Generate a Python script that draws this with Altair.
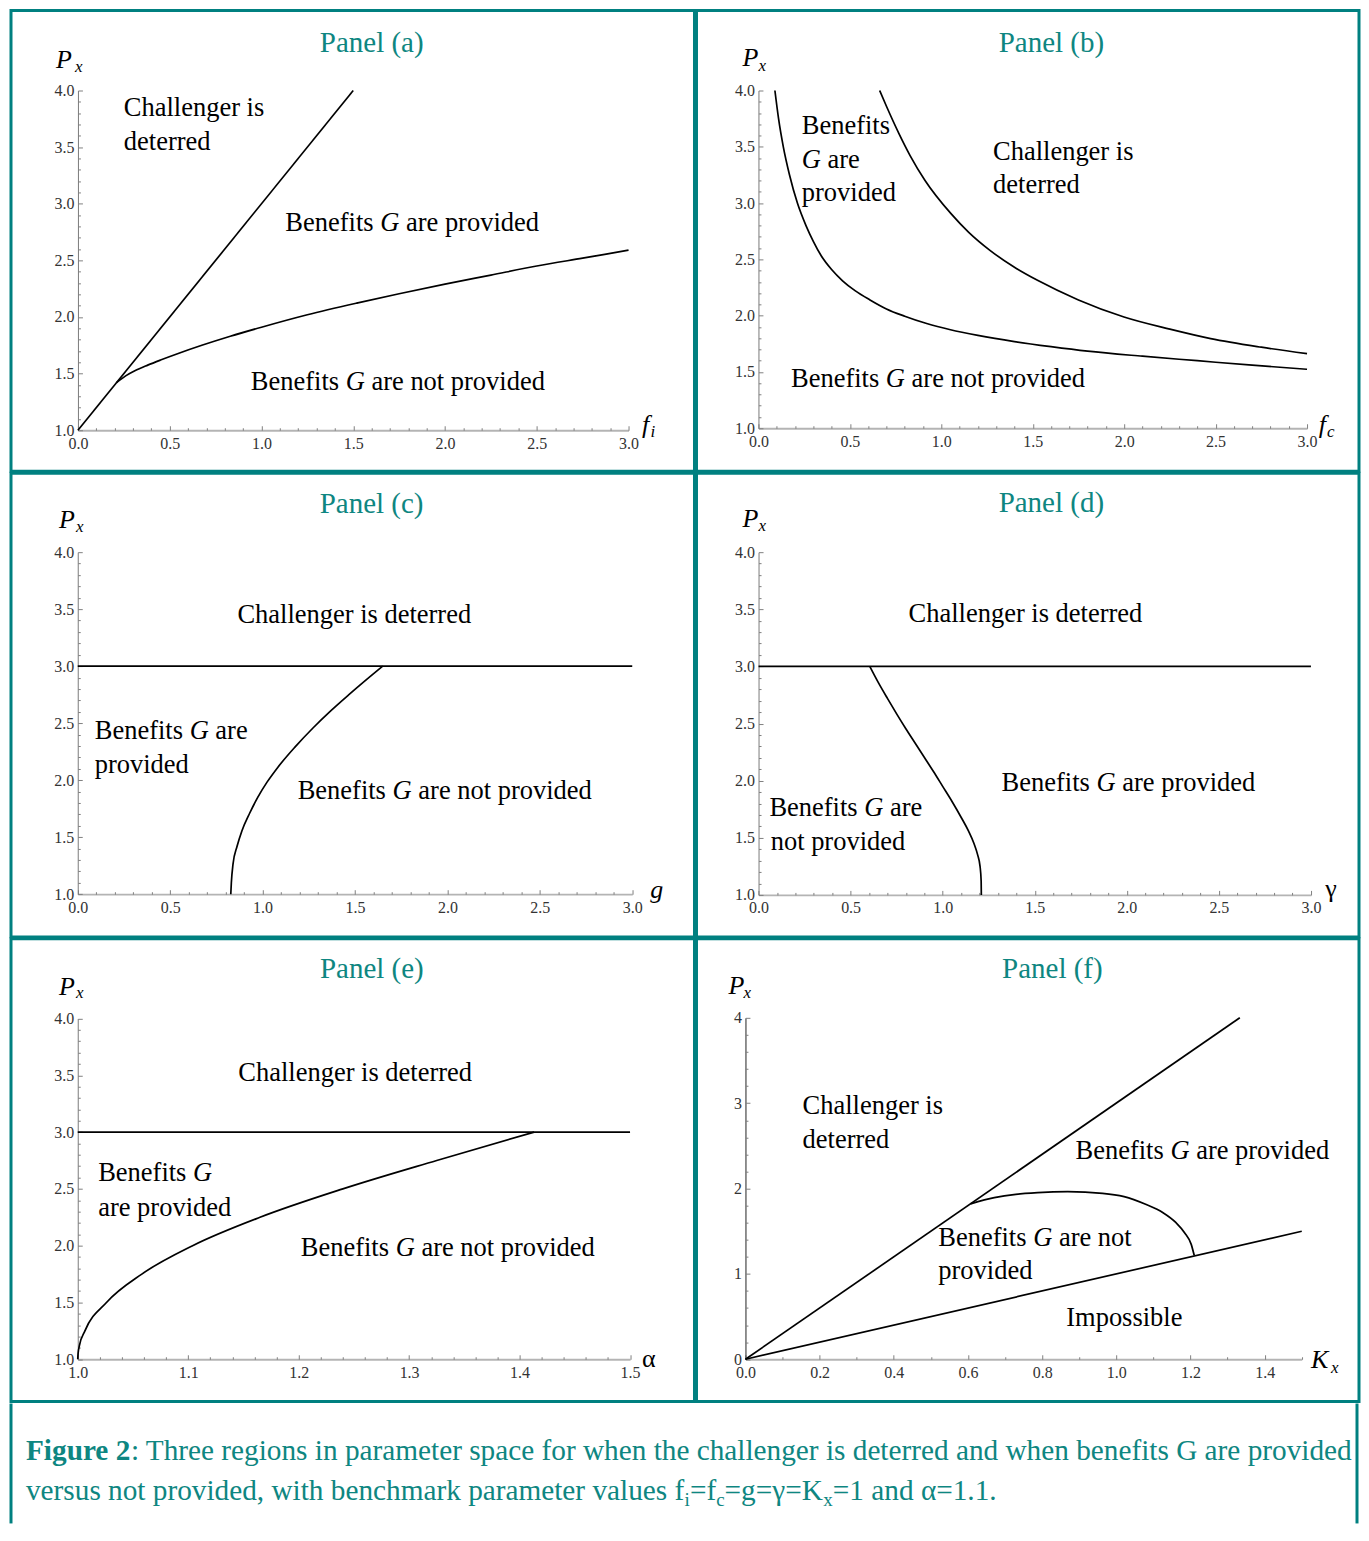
import altair as alt
import pandas as pd

FONT = "Liberation Serif"
BORDER = "#008080"
TEAL = "#0e8681"

# ---------------- data ----------------
# Panel (a): horizontal axis f_i
a_deter_x = [0.0, 1.5]
a_deter_y = [1.0, 4.0]
a_benefit_x = [0.21, 0.26, 0.31, 0.38, 0.45, 0.55, 0.675, 0.83, 1.0, 1.25, 1.525, 1.75, 2.0, 2.25, 2.5, 2.75, 3.0]
a_benefit_y = [1.42, 1.48, 1.525, 1.575, 1.62, 1.68, 1.75, 1.83, 1.91, 2.02, 2.125, 2.205, 2.29, 2.37, 2.45, 2.52, 2.59]

# Panel (b): horizontal axis f_c
b_benefit_x = [0.09, 0.11, 0.136, 0.17, 0.213, 0.26, 0.30, 0.344, 0.40, 0.46, 0.53, 0.61, 0.70, 0.80,
               0.92, 1.05, 1.20, 1.40, 1.60, 1.80, 2.10, 2.40, 2.70, 3.0]
b_benefit_y = [4.0, 3.75, 3.5, 3.25, 3.0, 2.80, 2.66, 2.53, 2.41, 2.31, 2.22, 2.14, 2.06, 1.995,
               1.93, 1.875, 1.825, 1.77, 1.725, 1.685, 1.64, 1.60, 1.56, 1.524]
b_deter_x = [0.663, 0.70, 0.769, 0.83, 0.911, 1.053, 1.15, 1.266, 1.40, 1.526, 1.75, 1.999, 2.25, 2.473, 2.75, 3.0]
b_deter_y = [4.0, 3.86, 3.615, 3.42, 3.201, 2.906, 2.74, 2.58, 2.43, 2.314, 2.14, 1.988, 1.88, 1.796, 1.72, 1.663]

# Panel (c): horizontal axis g
c_deter_x = [0.0, 3.0]
c_deter_y = [3.0, 3.0]
c_benefit_x = [0.828, 0.831, 0.840, 0.862, 0.888, 0.93, 0.973, 1.025, 1.081, 1.175, 1.274, 1.37, 1.467, 1.557, 1.650]
c_benefit_y = [1.0, 1.1, 1.263, 1.42, 1.555, 1.71, 1.847, 1.985, 2.110, 2.29, 2.46, 2.61, 2.75, 2.875, 3.0]

# Panel (d): horizontal axis gamma
d_deter_x = [0.0, 3.0]
d_deter_y = [3.0, 3.0]
d_benefit_x = [0.604, 0.65, 0.70, 0.75, 0.80, 0.85, 0.90, 0.95, 1.00, 1.05, 1.10, 1.14, 1.17, 1.19,
               1.203, 1.209, 1.210]
d_benefit_y = [3.0, 2.86, 2.72, 2.585, 2.455, 2.33, 2.205, 2.08, 1.95, 1.82, 1.68, 1.56, 1.45, 1.35,
               1.25, 1.12, 1.0]

# Panel (e): horizontal axis alpha
e_deter_x = [1.0, 1.5]
e_deter_y = [3.0, 3.0]
e_benefit_x = [1.0, 1.0003, 1.0015, 1.0065, 1.026, 1.058, 1.104, 1.165, 1.240, 1.325, 1.4132]
e_benefit_y = [1.0, 1.05, 1.12, 1.25, 1.5, 1.75, 2.0, 2.25, 2.5, 2.75, 3.0]

# Panel (f): horizontal axis K_x
f_deter_x = [0.0, 1.333]
f_deter_y = [0.0, 4.0]
f_possible_x = [0.0, 1.5]
f_possible_y = [0.0, 1.5]
f_benefit_x = [0.607, 0.671, 0.729, 0.788, 0.869, 0.963, 1.021, 1.079, 1.126, 1.161, 1.184, 1.202, 1.210]
f_benefit_y = [1.821, 1.893, 1.932, 1.952, 1.963, 1.944, 1.905, 1.815, 1.717, 1.600, 1.483, 1.346, 1.218]

# tick labels
xlabels_3 = [0, 0.5, 1, 1.5, 2, 2.5, 3]
ylabels_4 = [1, 1.5, 2, 2.5, 3, 3.5, 4]
xlabels_e = [1.0, 1.1, 1.2, 1.3, 1.4, 1.5]
xlabels_f = [0, 0.2, 0.4, 0.6, 0.8, 1.0, 1.2, 1.4]
ylabels_f = [0, 1, 2, 3, 4]

# texts
titles = {k: f"Panel ({k})" for k in "abcdef"}
caption_line1_bold = "Figure 2"
caption_line1 = ": Three regions in parameter space for when the challenger is deterred and when benefits G are provided"
caption_line2 = [("versus not provided, with benchmark parameter values f", False), ("i", True),
                 ("=f", False), ("c", True), ("=g=γ=K", False), ("x", True), ("=1 and α=1.1.", False)]

# ---------------- layout / style (not data) ----------------
LW, RW = 684, 663
SPECS = {
    "a": dict(w=LW, h=461, xd=[0, 3], xr=[67, 618], yd=[1, 4], yr=[420, 80],
              xl=xlabels_3, xs=0.1, xm=0.5, yl=ylabels_4, ys=0.1, ym=0.5, yf=".1f", yaxis="#7a7a7a"),
    "b": dict(w=RW, h=461, xd=[0, 3], xr=[62, 611], yd=[1, 4], yr=[418, 80],
              xl=xlabels_3, xs=0.1, xm=0.5, yl=ylabels_4, ys=0.1, ym=0.5, yf=".1f", yaxis="#7a7a7a"),
    "c": dict(w=LW, h=464, xd=[0, 3], xr=[66.8, 621.7], yd=[1, 4], yr=[421.3, 79],
              xl=xlabels_3, xs=0.1, xm=0.5, yl=ylabels_4, ys=0.1, ym=0.5, yf=".1f", yaxis="#7a7a7a"),
    "d": dict(w=RW, h=464, xd=[0, 3], xr=[62.1, 614.9], yd=[1, 4], yr=[422, 79],
              xl=xlabels_3, xs=0.1, xm=0.5, yl=ylabels_4, ys=0.1, ym=0.5, yf=".1f", yaxis="#7a7a7a"),
    "e": dict(w=LW, h=463, xd=[1, 1.5], xr=[66.8, 619.5], yd=[1, 4], yr=[420.7, 79.7],
              xl=xlabels_e, xs=0.02, xm=0.1, yl=ylabels_4, ys=0.1, ym=0.5, yf=".1f", yaxis="#7a7a7a"),
    "f": dict(w=RW, h=463, xd=[0, 1.5], xr=[49, 605.7], yd=[0, 4], yr=[420.7, 79],
              xl=xlabels_f, xs=0.1, xm=0.2, yl=ylabels_f, ys=0.2, ym=1.0, yf="d", yaxis="#222222"),
}

# annotation anchors (data units): text, x, y, kind
ANNOT = {
    "a": [(titles["a"], 1.318, 4.344, "title"), ("P", -0.120, 4.203, "var"), ("x", -0.016, 4.159, "sub"),
          ("Challenger is", 0.250, 3.779, "region"), ("deterred", 0.250, 3.471, "region"),
          ("Benefits G are provided", 1.130, 2.756, "region"),
          ("Benefits G are not provided", 0.942, 1.353, "region"),
          ("f", 3.073, 0.974, "var"), ("i", 3.120, 0.938, "sub")],
    "b": [(titles["b"], 1.314, 4.346, "title"), ("P", -0.087, 4.222, "var"), ("x", 0.0, 4.177, "sub"),
          ("Benefits", 0.237, 3.618, "region"), ("G are", 0.237, 3.308, "region"),
          ("provided", 0.237, 3.015, "region"),
          ("Challenger is", 1.283, 3.379, "region"), ("deterred", 1.283, 3.086, "region"),
          ("Benefits G are not provided", 0.178, 1.364, "region"),
          ("f", 3.064, 0.956, "var"), ("c", 3.109, 0.920, "sub")],
    "c": [(titles["c"], 1.309, 4.344, "title"), ("P", -0.102, 4.213, "var"), ("x", -0.010, 4.175, "sub"),
          ("Challenger is deterred", 0.864, 3.380, "region"),
          ("Benefits G are", 0.092, 2.358, "region"), ("provided", 0.092, 2.066, "region"),
          ("Benefits G are not provided", 1.190, 1.833, "region"),
          ("g", 3.097, 0.965, "var")],
    "d": [(titles["d"], 1.304, 4.354, "title"), ("P", -0.087, 4.222, "var"), ("x", 0.0, 4.189, "sub"),
          ("Challenger is deterred", 0.815, 3.389, "region"),
          ("Benefits G are provided", 1.320, 1.912, "region"),
          ("Benefits G are", 0.059, 1.693, "region"), ("not provided", 0.066, 1.392, "region"),
          ("γ", 3.078, 0.98, "varup")],
    "e": [(titles["e"], 1.2193, 4.358, "title"), ("P", 0.983, 4.211, "var"), ("x", 0.9984, 4.178, "sub"),
          ("Challenger is deterred", 1.1454, 3.449, "region"),
          ("Benefits G", 1.0185, 2.569, "region"), ("are provided", 1.0185, 2.262, "region"),
          ("Benefits G are not provided", 1.2019, 1.910, "region"),
          ("α", 1.5109, 0.93, "varup")],
    "f": [(titles["f"], 0.692, 4.469, "title"), ("P", -0.046, 4.281, "var"), ("x", -0.005, 4.229, "sub"),
          ("Challenger is", 0.154, 2.868, "region"), ("deterred", 0.154, 2.478, "region"),
          ("Benefits G are provided", 0.890, 2.341, "region"),
          ("Benefits G are not", 0.520, 1.328, "region"), ("provided", 0.520, 0.937, "region"),
          ("Impossible", 0.865, 0.391, "region"),
          ("K", 1.525, -0.097, "var"), ("x", 1.579, -0.156, "sub")],
}

LINES = {
    "a": [("deter", a_deter_x, a_deter_y), ("benefit", a_benefit_x, a_benefit_y)],
    "b": [("deter", b_deter_x, b_deter_y), ("benefit", b_benefit_x, b_benefit_y)],
    "c": [("deter", c_deter_x, c_deter_y), ("benefit", c_benefit_x, c_benefit_y)],
    "d": [("deter", d_deter_x, d_deter_y), ("benefit", d_benefit_x, d_benefit_y)],
    "e": [("deter", e_deter_x, e_deter_y), ("benefit", e_benefit_x, e_benefit_y)],
    "f": [("deter", f_deter_x, f_deter_y), ("possible", f_possible_x, f_possible_y),
          ("benefit", f_benefit_x, f_benefit_y)],
}

SIZES = {"title": 29, "region": 26.5, "var": 26, "sub": 17, "varup": 26}

# Times / Liberation Serif advance widths (1/1000 em)
W_REG = {' ': 250, ',': 250, '.': 250, ':': 278, '=': 564, '(': 333, ')': 333,
         'A': 722, 'B': 667, 'C': 667, 'F': 556, 'G': 722, 'I': 333, 'K': 722, 'P': 556, 'T': 611,
         'a': 444, 'b': 500, 'c': 444, 'd': 500, 'e': 444, 'f': 333, 'g': 500, 'h': 500, 'i': 278,
         'j': 278, 'k': 500, 'l': 278, 'm': 778, 'n': 500, 'o': 500, 'p': 500, 'q': 500, 'r': 333,
         's': 389, 't': 278, 'u': 500, 'v': 500, 'w': 722, 'x': 500, 'y': 500, 'z': 444,
         'α': 540, 'γ': 460}
W_BOLD = {' ': 250, 'F': 611, 'i': 278, 'g': 500, 'u': 556, 'r': 444, 'e': 444, '2': 500}


def text_width(s, table=W_REG):
    return sum(table.get(ch, 500) for ch in s) / 1000.0


def expand(line, x, y, size, ppu):
    """Split a region label so that the symbol G is set in italics."""
    pieces, buf, buf_start, off = [], [], 0.0, 0.0
    for w in line.split(" "):
        if w == "G":
            if buf:
                pieces.append((" ".join(buf), buf_start, False))
                buf = []
            pieces.append(("G", off, True))
            off += 0.722 + 0.25
        else:
            if not buf:
                buf_start = off
            buf.append(w)
            off += text_width(w) + 0.25
    if buf:
        pieces.append((" ".join(buf), buf_start, False))
    return [dict(text=t, x=x + o * size / ppu, y=y, italic=it, size=size, color="black")
            for t, o, it in pieces]


def tick_values(d, step):
    n = int(round((d[1] - d[0]) / step))
    return [round(d[0] + k * step, 6) for k in range(n + 1)]


def major_test(step):
    return f"abs(datum.value/{step} - round(datum.value/{step})) < 0.001"


LABEL_STYLE = dict(labelFont=FONT, labelFontSize=16, labelColor="#333333")


def panel(key):
    s = SPECS[key]
    ppu = (s["xr"][1] - s["xr"][0]) / (s["xd"][1] - s["xd"][0])
    xsc = alt.Scale(domain=s["xd"], range=s["xr"], nice=False, zero=False)
    ysc = alt.Scale(domain=s["yd"], range=s["yr"], nice=False, zero=False)

    rows = []
    for name, xs, ys in LINES[key]:
        for i, (xv, yv) in enumerate(zip(xs, ys)):
            rows.append(dict(series=name, i=i, x=xv, y=yv))
    ldf = pd.DataFrame(rows)

    trows = []
    for text, x, y, kind in ANNOT[key]:
        size = SIZES[kind]
        if kind == "region":
            trows += expand(text, x, y, size, ppu)
        else:
            trows.append(dict(text=text, x=x, y=y, italic=kind in ("var", "sub"), size=size,
                              color=TEAL if kind == "title" else "black"))
    tdf = pd.DataFrame(trows)

    ax_bottom = alt.Axis(orient="bottom", offset=s["yr"][0] - s["h"], values=s["xl"], format=".1f",
                         ticks=False, tickSize=0, grid=False, title=None, labelFlush=False,
                         labelOverlap=False, labelPadding=5, domainColor="#b4b4b4", domainWidth=1.8,
                         **LABEL_STYLE)
    ax_left = alt.Axis(orient="left", offset=-s["xr"][0], values=s["yl"], format=s["yf"],
                       ticks=False, tickSize=0, grid=False, title=None, labelFlush=False,
                       labelOverlap=False, labelPadding=4, domainColor=s["yaxis"], domainWidth=1,
                       **LABEL_STYLE)
    ax_top = alt.Axis(orient="top", offset=-s["yr"][0], values=tick_values(s["xd"], s["xs"]),
                      labels=False, domain=False, grid=False, title=None, tickColor="#808080",
                      tickWidth=1,
                      tickSize={"condition": {"test": major_test(s["xm"]), "value": 4.5}, "value": 2.5})
    ax_right = alt.Axis(orient="right", offset=s["xr"][0] - s["w"], values=tick_values(s["yd"], s["ys"]),
                        labels=False, domain=False, grid=False, title=None, tickColor="#808080",
                        tickWidth=1,
                        tickSize={"condition": {"test": major_test(s["ym"]), "value": 4.5}, "value": 2.5})

    lines = alt.Chart(ldf).mark_line(color="black", strokeWidth=1.7, interpolate="monotone").encode(
        x=alt.X("x:Q", scale=xsc, axis=ax_bottom),
        y=alt.Y("y:Q", scale=ysc, axis=ax_left),
        detail="series:N",
        order="i:Q",
    )
    normal = alt.Chart(tdf[~tdf["italic"]]).mark_text(align="left", baseline="alphabetic", font=FONT).encode(
        x=alt.X("x:Q", scale=xsc, axis=ax_top),
        y=alt.Y("y:Q", scale=ysc, axis=ax_right),
        text="text:N",
        size=alt.Size("size:Q", scale=None),
        color=alt.Color("color:N", scale=None),
    )
    italic = alt.Chart(tdf[tdf["italic"]]).mark_text(align="left", baseline="alphabetic", font=FONT,
                                                      fontStyle="italic").encode(
        x=alt.X("x:Q", scale=xsc, axis=None),
        y=alt.Y("y:Q", scale=ysc, axis=None),
        text="text:N",
        size=alt.Size("size:Q", scale=None),
        color=alt.Color("color:N", scale=None),
    )
    return alt.layer(lines, normal, italic).resolve_axis(x="independent", y="independent").properties(
        width=s["w"], height=s["h"])


# ---------------- caption ----------------
CAP_W, CAP_H = LW + RW, 120
CAP_SIZE, SUB_SIZE = 29.3, 19
cx0, cy1, cy2 = 15, 57, 97
cap_bold = pd.DataFrame([dict(text=caption_line1_bold, px=cx0, py=cy1, size=CAP_SIZE)])
crows = [dict(text=caption_line1, px=cx0 + text_width(caption_line1_bold, W_BOLD) * CAP_SIZE,
              py=cy1, size=CAP_SIZE)]
off = cx0
for t, sub in caption_line2:
    sz = SUB_SIZE if sub else CAP_SIZE
    crows.append(dict(text=t, px=off, py=cy2 + (6 if sub else 0), size=sz))
    off += text_width(t) * sz
cap_norm = pd.DataFrame(crows)

cap_enc = dict(
    x=alt.X("px:Q", scale=None, axis=None),
    y=alt.Y("py:Q", scale=None, axis=None),
    text="text:N",
    size=alt.Size("size:Q", scale=None),
)
one = pd.DataFrame({"k": [0]})
caption = alt.layer(
    alt.Chart(one).mark_rule(color=BORDER, strokeWidth=3).encode(
        x=alt.value(0), y=alt.value(0), y2=alt.value(CAP_H)),
    alt.Chart(one).mark_rule(color=BORDER, strokeWidth=3).encode(
        x=alt.value(CAP_W), y=alt.value(0), y2=alt.value(CAP_H)),
    alt.Chart(cap_bold).mark_text(align="left", baseline="alphabetic", font=FONT, fontWeight="bold",
                                  color=TEAL).encode(**cap_enc),
    alt.Chart(cap_norm).mark_text(align="left", baseline="alphabetic", font=FONT,
                                  color=TEAL).encode(**cap_enc),
).properties(width=CAP_W, height=CAP_H, view=alt.ViewBackground(stroke="transparent"))

SP = -3
row1 = alt.hconcat(panel("a"), panel("b"), spacing=SP)
row2 = alt.hconcat(panel("c"), panel("d"), spacing=SP)
row3 = alt.hconcat(panel("e"), panel("f"), spacing=SP)

chart = alt.vconcat(row1, row2, row3, caption, spacing=SP).properties(
    padding={"left": 0, "top": 0, "right": 0, "bottom": 0}
).configure_view(stroke=BORDER, strokeWidth=3).configure_axis(
    labelFont=FONT, labelFontSize=16, labelColor="#333333"
)

chart.save("out.html", embed_options={"renderer": "svg", "actions": False})
